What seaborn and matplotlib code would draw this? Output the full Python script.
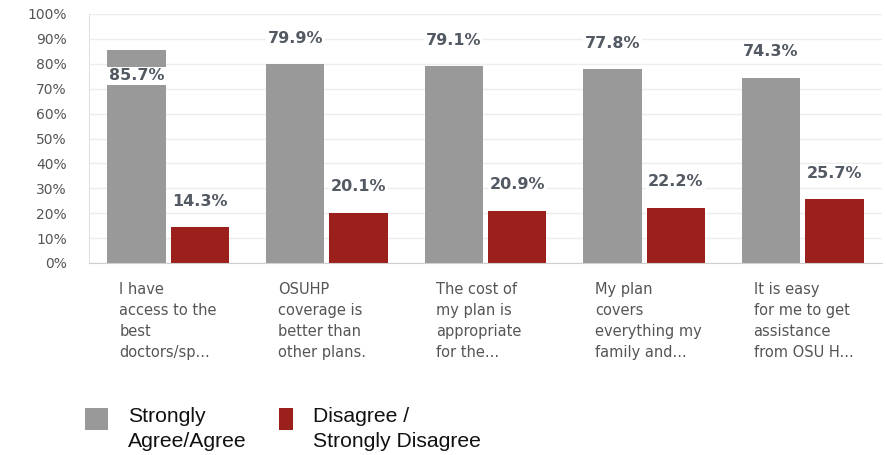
import matplotlib
matplotlib.use("Agg")
import matplotlib.pyplot as plt
import matplotlib.transforms as mtransforms
from matplotlib.patches import Rectangle
import pandas as pd
import seaborn as sns

# Survey statements (wrapped and truncated the way they are displayed)
statements = [
    "I have\naccess to the\nbest\ndoctors/sp...",
    "OSUHP\ncoverage is\nbetter than\nother plans.",
    "The cost of\nmy plan is\nappropriate\nfor the...",
    "My plan\ncovers\neverything my\nfamily and...",
    "It is easy\nfor me to get\nassistance\nfrom OSU H...",
]
series_names = ["Strongly\nAgree/Agree", "Disagree /\nStrongly Disagree"]
agree_pct = [85.7, 79.9, 79.1, 77.8, 74.3]
disagree_pct = [14.3, 20.1, 20.9, 22.2, 25.7]
y_ticks = [0, 10, 20, 30, 40, 50, 60, 70, 80, 90, 100]

colors = ["#999999", "#9b1f1b"]

df = pd.DataFrame({
    "statement": statements * 2,
    "response": [series_names[0]] * len(statements) + [series_names[1]] * len(statements),
    "pct": agree_pct + disagree_pct,
})

sns.set_style("white")
plt.rcParams["font.family"] = ["DejaVu Sans"]

W, H = 887, 455
fig = plt.figure(figsize=(W / 100, H / 100), dpi=100)
ax = fig.add_axes([89 / W, 1 - 263 / H, 793 / W, 249 / H])

sns.barplot(data=df, x="statement", y="pct", hue="response",
            palette=colors, width=0.8, gap=0.08, saturation=1,
            edgecolor="none", legend=False, ax=ax, zorder=2)

ax.set_ylim(0, 100)
ax.set_xlim(-0.5, len(statements) - 0.5)
ax.set_yticks(y_ticks)
ax.set_yticklabels([f"{v}%" for v in y_ticks], color="#555555", fontsize=10)
ax.tick_params(axis="y", length=0, pad=16)
ax.tick_params(axis="x", length=0)
ax.set_xticklabels([])
ax.set_xlabel("")
ax.set_ylabel("")
ax.yaxis.grid(True, color="#ededed", linewidth=1, zorder=0)
ax.set_axisbelow(True)
for side in ["top", "right"]:
    ax.spines[side].set_visible(False)
ax.spines["left"].set_color("#e2e2e2")
ax.spines["bottom"].set_color("#cfcfcf")

# value labels above each bar (the tallest one tucked inside its bar)
for container in ax.containers:
    for bar in container:
        h = bar.get_height()
        xc = bar.get_x() + bar.get_width() / 2
        offset = -26 if h > 85 else 26
        ax.annotate(f"{h:.1f}%", xy=(xc, h), xytext=(0, offset),
                    textcoords="offset pixels", ha="center", va="center",
                    fontsize=11.5, fontweight="bold", color="#535a63",
                    bbox=dict(boxstyle="square,pad=0.1", fc="white", ec="none"),
                    zorder=5)

# category labels, left aligned under each group
trans = mtransforms.blended_transform_factory(ax.transData, ax.transAxes)
for i, text in enumerate(statements):
    ax.text(i - 0.31, -0.075, text, transform=trans, ha="left", va="top",
            fontsize=10.5, color="#555555", linespacing=1.5)

# legend below the chart: swatch beside the first line of each label
legend_items = [
    (series_names[0], colors[0], 85, 23, 128),
    (series_names[1], colors[1], 279, 14, 313),
]
for label, color, x0, w, tx in legend_items:
    fig.patches.append(Rectangle((x0 / W, 1 - 430 / H), w / W, 22 / H,
                                 transform=fig.transFigure, facecolor=color,
                                 edgecolor="none"))
    fig.text(tx / W, 1 - 407 / H, label, ha="left", va="top",
             fontsize=15.2, family="Liberation Sans", color="#111111",
             linespacing=1.38)

fig.savefig("out.png", dpi=100)
